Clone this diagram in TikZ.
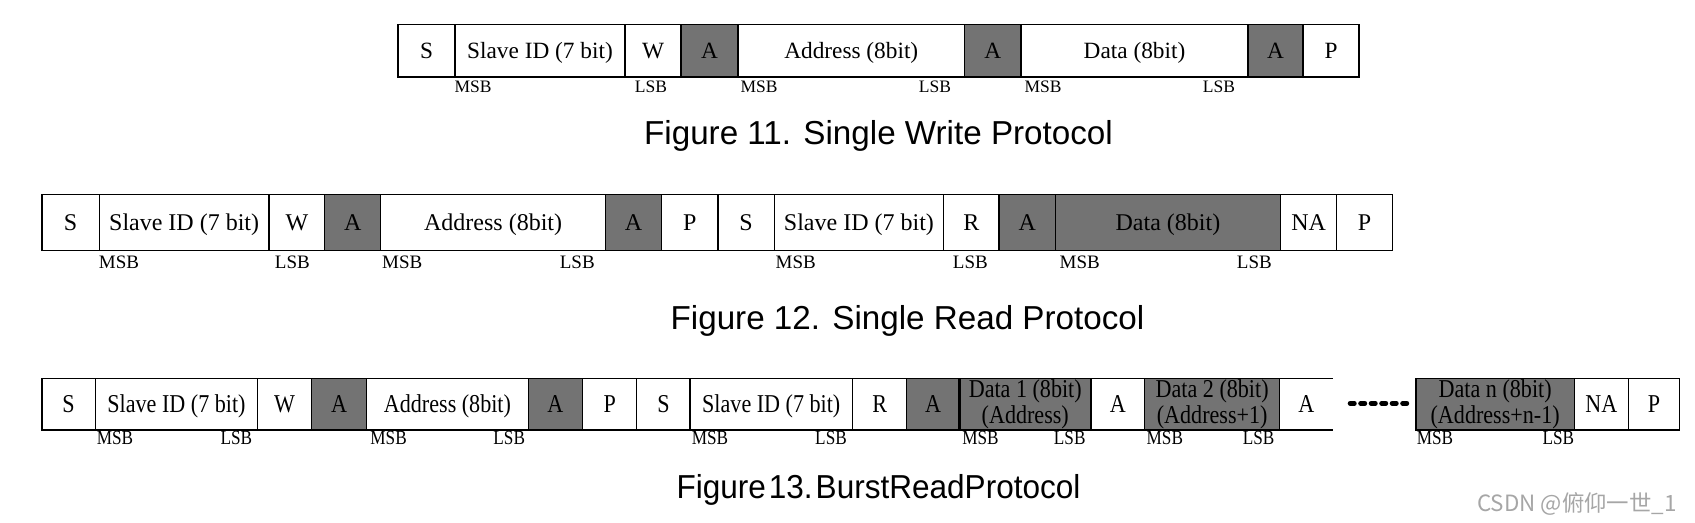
\documentclass[tikz,border=0pt]{standalone}
\usepackage{fontspec}
\setmainfont{Liberation Serif}
\newfontfamily\captionFont{Liberation Sans}
\newfontfamily\captionNarrowFont[FakeStretch=0.95]{Liberation Sans}
\newfontfamily\narrowFont[FakeStretch=0.86]{Liberation Serif}
\newfontfamily\markFont{Noto Sans CJK SC}

\begin{document}
\begin{tikzpicture}[x=0.5pt, y=-0.5pt,
    protoCell/.style={draw=borderColour, line width=0.6pt, inner sep=0pt, outer sep=0pt, text depth=0pt},
    wrCell/.style={protoCell, minimum height=26.25pt, text height=7.7pt, font=\fontsize{11.65}{14}\selectfont},
    rdCell/.style={protoCell, minimum height=28.05pt, text height=7.95pt, font=\fontsize{12}{14.4}\selectfont},
    brCell/.style={protoCell, minimum height=25.75pt, text height=8.5pt, font=\narrowFont\fontsize{12.85}{15}\selectfont},
    brPair/.style={draw=borderColour, line width=0.6pt, inner sep=0pt, outer sep=0pt, minimum height=25.75pt,
        align=center, fill=ackGrey, font=\narrowFont\fontsize{12.85}{13.25}\selectfont},
    wrBit/.style={anchor=base, inner sep=0pt, font=\fontsize{8.75}{10}\selectfont},
    rdBit/.style={anchor=base, inner sep=0pt, font=\fontsize{9.5}{11}\selectfont},
    brBit/.style={anchor=base, inner sep=0pt, font=\narrowFont\fontsize{10}{11}\selectfont},
    figCaption/.style={anchor=base, inner sep=0pt, font=\captionFont\fontsize{16.6}{20}\selectfont},
    ellipsisDash/.style={line width=2.5pt, line cap=round},
]
    \definecolor{borderColour}{HTML}{000000}
    \definecolor{ackGrey}{HTML}{737373}
    \definecolor{markGrey}{HTML}{A6A6A6}

    \useasboundingbox (0,0) rectangle (1695,523);

    % Figure 11: single write
    \foreach \x/\t [count=\i] in {473/MSB, 651/LSB, 759/MSB, 935/LSB, 1043/MSB, 1219/LSB}
        \node[wrBit] (wrl\i) at (\x,92.3) {\t};
    \foreach \xa/\xb/\lbl/\fc [count=\i] in {398/455/S/white, 455/625/Slave ID (7 bit)/white,
            625/681/W/white, 681/738/A/ackGrey, 738/964.5/Address (8bit)/white,
            964.5/1021/A/ackGrey, 1021/1248/Data (8bit)/white, 1248/1303/A/ackGrey,
            1303/1359/P/white}
        \node[wrCell, fill=\fc, minimum width={(\xb-\xa)*0.5pt}] (wr\i) at ({(\xa+\xb)/2},50.75) {\lbl};
    \node[figCaption] (cap11) at (878.5,145) {Figure 11. Single Write Protocol};

    % Figure 12: single read
    \foreach \x/\t [count=\i] in {119/MSB, 292.4/LSB, 402.3/MSB, 577.3/LSB, 795.7/MSB, 970.3/LSB,
            1079.7/MSB, 1254.3/LSB}
        \node[rdBit] (rdl\i) at (\x,268.3) {\t};
    \foreach \xa/\xb/\lbl/\fc [count=\i] in {42/99.3/S/white, 99.3/269/Slave ID (7 bit)/white,
            269/324.8/W/white, 324.8/380.7/A/ackGrey, 380.7/605.5/Address (8bit)/white,
            605.5/661.5/A/ackGrey, 661.5/718/P/white, 718/774.2/S/white,
            774.2/943.7/Slave ID (7 bit)/white, 943.7/999/R/white, 999/1055.3/A/ackGrey,
            1055.3/1280.5/Data (8bit)/ackGrey, 1280.5/1336.8/NA/white, 1336.8/1392.5/P/white}
        \node[rdCell, fill=\fc, minimum width={(\xb-\xa)*0.5pt}] (rd\i) at ({(\xa+\xb)/2},222.35) {\lbl};
    \node[figCaption] (cap12) at (907.5,329) {Figure 12. Single Read Protocol};

    % Figure 13: burst read (bit labels first, the cells cover their tops)
    \foreach \x/\t [count=\i] in {115/MSB, 236.4/LSB, 388.6/MSB, 509.2/LSB, 710/MSB, 831/LSB,
            980.4/MSB, 1069.7/LSB, 1164.8/MSB, 1258.6/LSB, 1435/MSB, 1558.3/LSB}
        \node[brBit] (brl\i) at (\x,444) {\t};
    \foreach \xa/\xb/\lbl/\fc [count=\i] in {42/95.2/S/white, 95.2/257.8/Slave ID (7 bit)/white,
            257.8/311.5/W/white, 311.5/366.5/A/ackGrey, 366.5/528.4/Address (8bit)/white,
            528.4/582.5/A/ackGrey, 582.5/636.8/P/white, 636.8/690/S/white,
            690/852.5/Slave ID (7 bit)/white, 852.5/906.8/R/white, 906.8/959.5/A/ackGrey}
        \node[brCell, fill=\fc, minimum width={(\xb-\xa)*0.5pt}] (br\i) at ({(\xa+\xb)/2},404.25) {\lbl};
    \node[brPair, minimum width=65.75pt] (br12) at (1025.25,404.25) {Data 1 (8bit)\\(Address)};
    \node[brCell, fill=white, minimum width=26.75pt] (br13) at (1117.75,404.25) {A};
    \node[brPair, minimum width=67.65pt] (br14) at (1212.15,404.25) {Data 2 (8bit)\\(Address+1)};
    \node[brCell, draw=none, minimum width=26.6pt] (br15) at (1306.4,404.25) {A};
    \draw[line width=0.6pt] (br15.north west) -- (br15.north east);
    \draw[line width=0.6pt] (br15.south west) -- (br15.south east);
    \draw[line width=1.4pt] (br11.north east) -- (br11.south east);
    \foreach \k in {0,...,5}
        \draw[ellipsisDash] ({1350.2+\k*10.5},403.3) -- ++(4,0);
    \node[brPair, minimum width=79.15pt] (br16) at (1495.15,404.25) {Data n (8bit)\\(Address+n-1)};
    \node[brCell, fill=white, minimum width=27pt] (br17) at (1601.3,404.25) {NA};
    \node[brCell, fill=white, minimum width=25.6pt] (br18) at (1653.9,404.25) {P};
    \node[figCaption, font=\captionNarrowFont\fontsize{16.6}{20}\selectfont] (cap13) at (878.5,498)
        {Figure\hspace{1.5pt}13.\hspace{1.5pt}BurstReadProtocol};

    % Watermark
    \node[anchor=base east, inner sep=0pt, text=markGrey, font=\markFont\fontsize{11.2}{13}\selectfont]
        (mark) at (1677,511) {CSDN @俯仰一世\_1};
\end{tikzpicture}
\end{document}
